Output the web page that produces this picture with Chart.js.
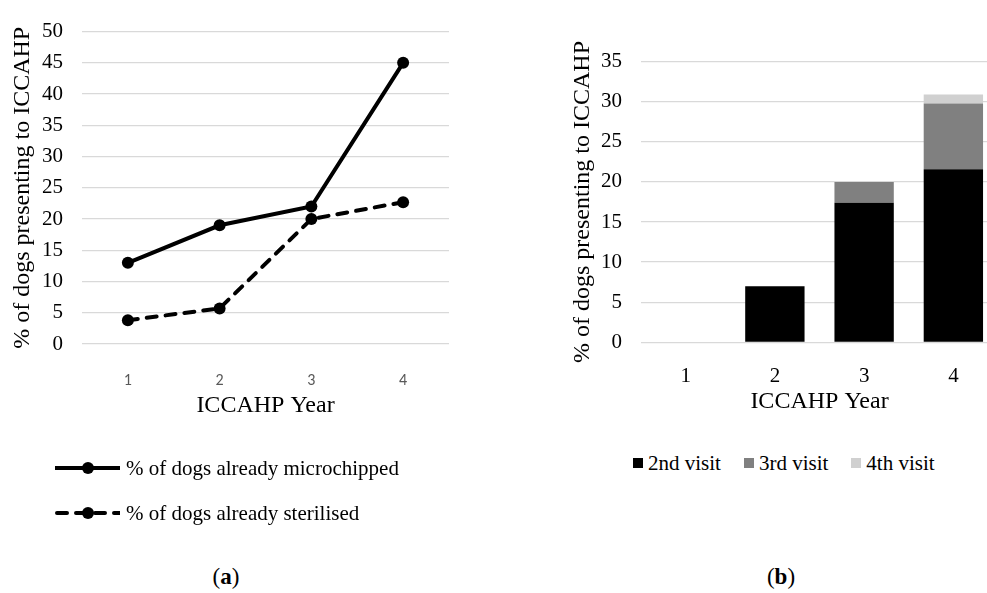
<!DOCTYPE html>
<html>
<head>
<meta charset="utf-8">
<script src="https://cdn.jsdelivr.net/npm/chart.js@4/dist/chart.umd.min.js"></script>
<style>
  body { margin: 0; background: #fff; }
  #page { position: relative; width: 987px; height: 593px; overflow: hidden; background: #fff;
          font-family: 'Liberation Serif', 'Times New Roman', serif; color: #000; }
  .box { position: absolute; top: 0; }
  .legend { position: absolute; font-size: 21px; }
  .legend .row { display: flex; align-items: center; height: 45px; white-space: nowrap; }
  .legend .row canvas { margin-right: 6px; }
  .legend.flat { display: flex; align-items: center; height: 24px; white-space: nowrap; }
  .legend.flat .item { display: flex; align-items: center; margin-right: 23px; }
  .legend.flat .sq { width: 10px; height: 10px; margin-right: 5px; }
  .tag { position: absolute; width: 100px; text-align: center; font-size: 23px; transform: translate(-50%, -50%); }
</style>
</head>
<body>
<div id="page">
  <div class="box" style="left:0; width:470px; height:440px"><canvas id="chartA" width="470" height="440"></canvas></div>
  <div class="box" style="left:556px; width:460px; height:440px"><canvas id="chartB" width="460" height="440"></canvas></div>
  <div id="legendA" class="legend" style="left:55px; top:445.5px"></div>
  <div id="legendB" class="legend flat" style="left:633px; top:451px"></div>
  <div class="tag" style="left:226px; top:577px">(<b>a</b>)</div>
  <div class="tag" style="left:781px; top:577px">(<b>b</b>)</div>
</div>
<script>
var years = ['1', '2', '3', '4'];
var xTitle = 'ICCAHP Year';
var yTitle = '% of dogs presenting to ICCAHP';

// left panel: share of dogs already treated on arrival
var lineNames = ['% of dogs already microchipped', '% of dogs already sterilised'];
var microchipped = [13, 19, 22, 45];
var sterilised = [3.8, 5.7, 20, 22.7];
var lineMax = 50;

// right panel: repeat visits, stacked
var visitNames = ['2nd visit', '3rd visit', '4th visit'];
var visit2 = [0, 7, 17.4, 21.6];
var visit3 = [0, 0, 2.6, 8.2];
var visit4 = [0, 0, 0, 1.1];
var barMax = 35;
var tickStep = 5;

var SERIF = "'Liberation Serif', 'Times New Roman', serif";
var GRID = '#d9d9d9';

function titleOpts(text, pad) {
    return { display: true, text: text, color: '#000', font: { family: SERIF, size: 24 }, padding: pad };
}

var chartA = new Chart(document.getElementById('chartA'), {
    type: 'line',
    data: {
        labels: years,
        datasets: [{
            label: lineNames[0],
            data: microchipped,
            borderColor: '#000',
            backgroundColor: '#000',
            borderWidth: 4,
            pointRadius: 6,
            pointBorderWidth: 0,
            tension: 0
        }, {
            label: lineNames[1],
            data: sterilised,
            borderColor: '#000',
            backgroundColor: '#000',
            borderWidth: 4,
            borderDash: [10, 9],
            borderCapStyle: 'round',
            pointRadius: 6,
            pointBorderWidth: 0,
            tension: 0
        }]
    },
    options: {
        responsive: false,
        animation: false,
        layout: { padding: { top: 20.7, right: 21, left: 0, bottom: 0 } },
        plugins: { legend: { display: false }, tooltip: { enabled: false } },
        scales: {
            x: {
                offset: true,
                grid: { display: false },
                border: { display: false },
                ticks: { color: '#595959', padding: 19, font: { family: "Carlito, 'Liberation Sans', sans-serif", size: 16 } },
                title: titleOpts(xTitle, { top: 0, bottom: 20 }),
                afterFit: function (scale) { scale.height = 96; }
            },
            y: {
                min: 0,
                max: lineMax,
                grid: { color: GRID, lineWidth: 1.3, drawTicks: false },
                border: { display: false },
                ticks: { stepSize: tickStep, color: '#000', padding: 19, font: { family: SERIF, size: 21 } },
                title: titleOpts(yTitle, { top: 8, bottom: 0 }),
                afterFit: function (scale) { scale.width = 82; }
            }
        }
    }
});

var chartB = new Chart(document.getElementById('chartB'), {
    type: 'bar',
    data: {
        labels: years,
        datasets: [
            { label: visitNames[0], data: visit2, backgroundColor: '#000000' },
            { label: visitNames[1], data: visit3, backgroundColor: '#808080' },
            { label: visitNames[2], data: visit4, backgroundColor: '#d0d0d0' }
        ]
    },
    options: {
        responsive: false,
        animation: false,
        layout: { padding: { top: 61.7, right: 18, left: 0, bottom: 0 } },
        datasets: { bar: { categoryPercentage: 1, barPercentage: 0.665, borderWidth: 0 } },
        plugins: { legend: { display: false }, tooltip: { enabled: false } },
        scales: {
            x: {
                stacked: true,
                grid: { display: false },
                border: { display: false },
                ticks: { color: '#000', padding: 14, font: { family: SERIF, size: 21 } },
                title: titleOpts(xTitle, { top: 0, bottom: 24 }),
                afterFit: function (scale) { scale.height = 97.7; }
            },
            y: {
                stacked: true,
                min: 0,
                max: barMax,
                grid: { color: GRID, lineWidth: 1.3, drawTicks: false },
                border: { display: false },
                ticks: { stepSize: tickStep, color: '#000', padding: 19, font: { family: SERIF, size: 21 } },
                title: titleOpts(yTitle, { top: 12, bottom: 0 }),
                afterFit: function (scale) { scale.width = 85; }
            }
        }
    }
});

// legend for the line panel: small line + marker swatch per dataset
function lineSwatch(ds) {
    var c = document.createElement('canvas');
    c.width = 65;
    c.height = 16;
    var ctx = c.getContext('2d');
    ctx.strokeStyle = ds.borderColor;
    ctx.lineWidth = ds.borderWidth;
    ctx.lineCap = ds.borderCapStyle || 'butt';
    ctx.setLineDash(ds.borderDash || []);
    ctx.beginPath();
    ctx.moveTo(ds.borderDash ? 2 : 0, 8);
    ctx.lineTo(65, 8);
    ctx.stroke();
    ctx.fillStyle = ds.backgroundColor;
    ctx.beginPath();
    ctx.arc(33, 8, ds.pointRadius, 0, Math.PI * 2);
    ctx.fill();
    return c;
}

var legendA = document.getElementById('legendA');
chartA.data.datasets.forEach(function (ds) {
    var row = document.createElement('div');
    row.className = 'row';
    row.appendChild(lineSwatch(ds));
    row.appendChild(document.createTextNode(ds.label));
    legendA.appendChild(row);
});

var legendB = document.getElementById('legendB');
chartB.data.datasets.forEach(function (ds) {
    var item = document.createElement('span');
    item.className = 'item';
    var sq = document.createElement('span');
    sq.className = 'sq';
    sq.style.background = ds.backgroundColor;
    item.appendChild(sq);
    item.appendChild(document.createTextNode(ds.label));
    legendB.appendChild(item);
});
</script>
</body>
</html>
